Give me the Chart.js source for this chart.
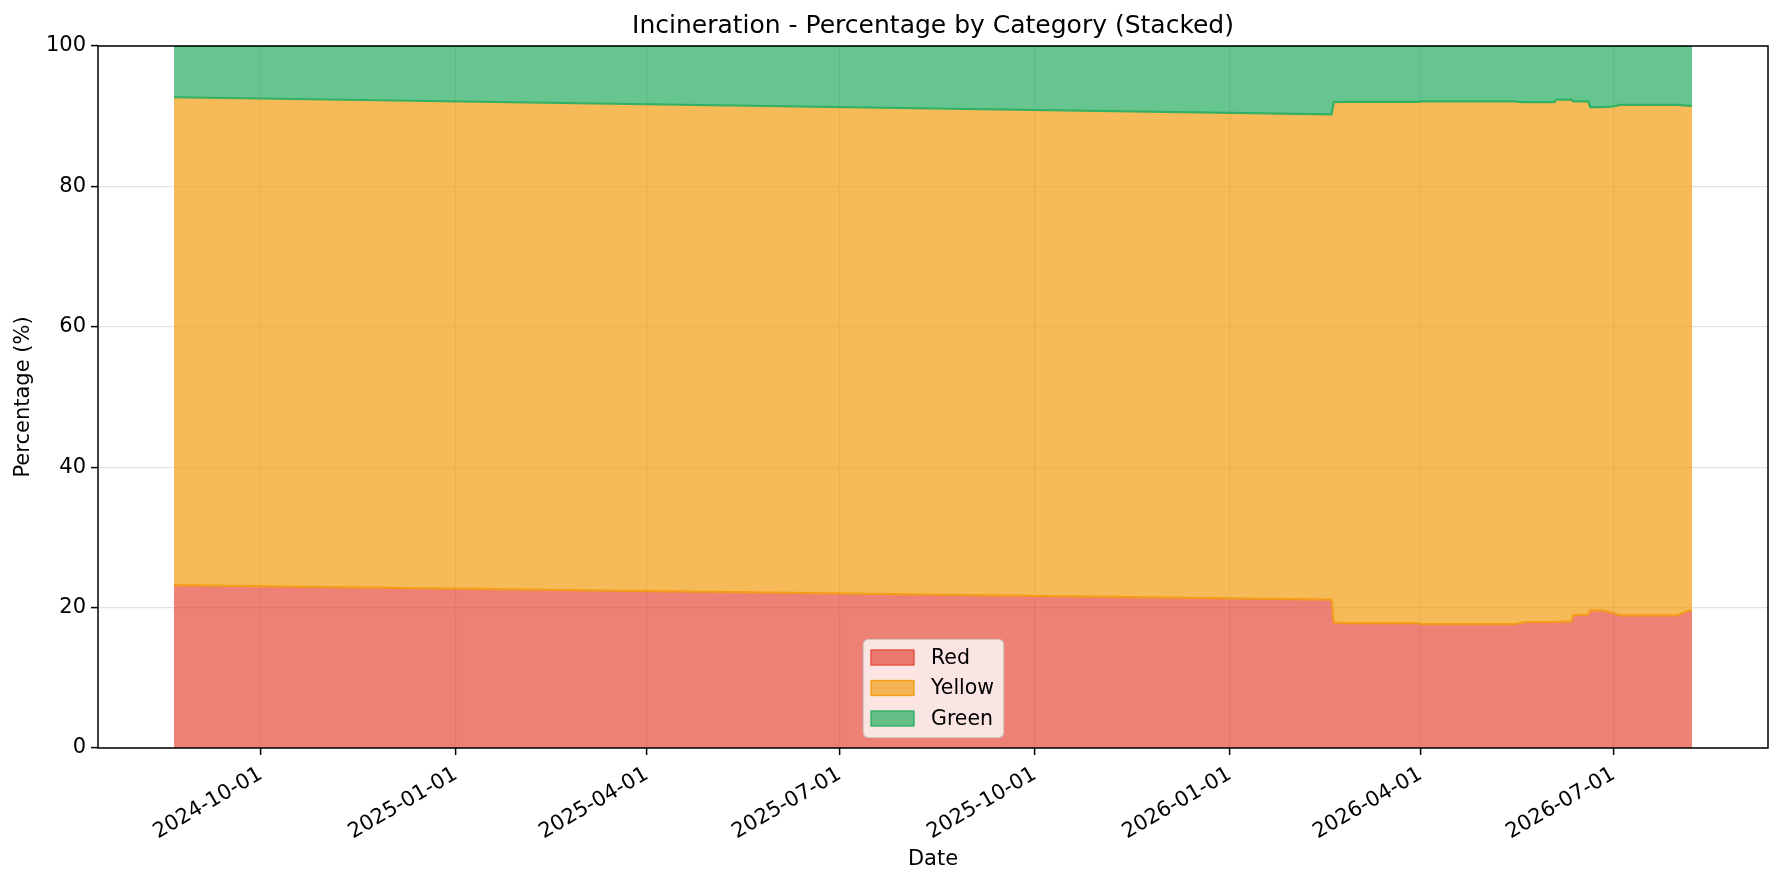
<!DOCTYPE html>
<html>
<head>
<meta charset="utf-8">
<title>Incineration - Percentage by Category (Stacked)</title>
<script src="https://cdn.jsdelivr.net/npm/chart.js@4.4.1/dist/chart.umd.min.js"></script>
<style>
    html, body { margin: 0; padding: 0; background: #fff; }
    #wrap { width: 1783px; height: 884px; position: relative; }
</style>
</head>
<body>
<div id="wrap"><canvas id="stackChart"></canvas></div>
<script>
// Sample dates and the share of each category (percent)
var dates = ['2024-08-21', '2026-02-18', '2026-02-19', '2026-02-24', '2026-03-31', '2026-04-01',
    '2026-05-15', '2026-05-19', '2026-05-21', '2026-06-03', '2026-06-04', '2026-06-11',
    '2026-06-12', '2026-06-19', '2026-06-20', '2026-06-26', '2026-07-01', '2026-07-04',
    '2026-07-31', '2026-08-03', '2026-08-05', '2026-08-07'];
var redPct = [23.2, 21.15, 17.9, 17.8, 17.8, 17.65, 17.65, 17.85, 17.95, 17.95, 18.0, 18.0,
    18.95, 19.0, 19.6, 19.6, 19.2, 18.9, 18.9, 19.3, 19.55, 19.6];
var yellowPct = [69.5, 69.1, 74.1, 74.25, 74.25, 74.45, 74.45, 74.15, 74.05, 74.05, 74.35, 74.35,
    73.15, 73.1, 71.7, 71.7, 72.2, 72.7, 72.7, 72.25, 71.95, 71.85];
var greenPct = [7.3, 9.75, 8.0, 7.95, 7.95, 7.9, 7.9, 8.0, 8.0, 8.0, 7.65, 7.65,
    7.9, 7.9, 8.7, 8.7, 8.6, 8.4, 8.4, 8.45, 8.5, 8.55];

var seriesNames = ['Red', 'Yellow', 'Green'];
var tickDates = ['2024-10-01', '2025-01-01', '2025-04-01', '2025-07-01', '2025-10-01',
    '2026-01-01', '2026-04-01', '2026-07-01'];
var yTicks = [0, 20, 40, 60, 80, 100];

var colRed = '#e74c3c', colYellow = '#f39c12', colGreen = '#27ae60';
var fontFamily = '"DejaVu Sans", "Liberation Sans", sans-serif';

function toDay(s) {
    return Date.parse(s + 'T00:00:00Z') / 86400000;
}
function fromDay(v) {
    return new Date(Math.round(v) * 86400000).toISOString().slice(0, 10);
}
function rgba(hex, a) {
    var n = parseInt(hex.slice(1), 16);
    return 'rgba(' + (n >> 16) + ',' + ((n >> 8) & 255) + ',' + (n & 255) + ',' + a + ')';
}
function points(values) {
    return values.map(function (v, i) { return { x: toDay(dates[i]), y: v }; });
}

var firstDay = toDay(dates[0]);
var lastDay = toDay(dates[dates.length - 1]);
var span = lastDay - firstDay;

// frame round the plot area (all four sides)
var framePlugin = {
    id: 'frame',
    afterDraw: function (chart) {
        var a = chart.chartArea, ctx = chart.ctx;
        ctx.save();
        ctx.strokeStyle = '#000';
        ctx.lineWidth = 1.5;
        ctx.strokeRect(a.left, a.top, a.right - a.left, a.bottom - a.top);
        ctx.restore();
    }
};

// legend box inside the plot, lower centre
var legendPlugin = {
    id: 'innerLegend',
    afterDraw: function (chart) {
        var ctx = chart.ctx;
        var cols = [colRed, colYellow, colGreen];
        var bx = 863.5, by = 639.5, bw = 140, bh = 98;
        ctx.save();
        ctx.beginPath();
        if (ctx.roundRect) {
            ctx.roundRect(bx, by, bw, bh, 5);
        } else {
            ctx.rect(bx, by, bw, bh);
        }
        ctx.fillStyle = 'rgba(255,255,255,0.8)';
        ctx.fill();
        ctx.strokeStyle = 'rgba(204,204,204,0.9)';
        ctx.lineWidth = 1.2;
        ctx.stroke();
        ctx.font = '20.5px ' + fontFamily;
        ctx.textBaseline = 'middle';
        for (var i = 0; i < seriesNames.length; i++) {
            var cy = 657.5 + i * 30.5;
            ctx.fillStyle = rgba(cols[i], 0.7);
            ctx.fillRect(871, cy - 7.5, 43, 15);
            ctx.strokeStyle = cols[i];
            ctx.lineWidth = 1.3;
            ctx.strokeRect(871, cy - 7.5, 43, 15);
            ctx.fillStyle = '#000';
            ctx.fillText(seriesNames[i], 931, cy + 1);
        }
        ctx.restore();
    }
};

var ctx = document.getElementById('stackChart').getContext('2d');
var stackChart = new Chart(ctx, {
    type: 'line',
    data: {
        datasets: [{
            label: seriesNames[0],
            data: points(redPct),
            backgroundColor: rgba(colRed, 0.7),
            borderColor: rgba(colYellow, 0.9),
            borderWidth: 2.2,
            fill: 'origin'
        }, {
            label: seriesNames[1],
            data: points(yellowPct),
            backgroundColor: rgba(colYellow, 0.7),
            borderColor: rgba(colGreen, 0.9),
            borderWidth: 2.2,
            fill: '-1'
        }, {
            label: seriesNames[2],
            data: points(greenPct),
            backgroundColor: rgba(colGreen, 0.7),
            borderColor: rgba(colGreen, 0.9),
            borderWidth: 2.2,
            fill: '-1'
        }]
    },
    options: {
        responsive: true,
        maintainAspectRatio: false,
        animation: false,
        devicePixelRatio: 1,
        layout: {
            padding: { left: 0, right: 15, top: 0, bottom: 0 }
        },
        elements: {
            point: { radius: 0, hoverRadius: 0 },
            line: { tension: 0 }
        },
        plugins: {
            legend: { display: false },
            tooltip: { enabled: false },
            title: {
                display: true,
                fullSize: false,
                text: 'Incineration - Percentage by Category (Stacked)',
                color: '#000',
                font: { family: fontFamily, size: 25, weight: 'normal' },
                padding: { top: 11, bottom: 5 }
            }
        },
        scales: {
            x: {
                type: 'linear',
                z: 1,
                min: firstDay - 0.05 * span,
                max: lastDay + 0.05 * span,
                afterBuildTicks: function (scale) {
                    scale.ticks = tickDates.map(function (d) { return { value: toDay(d) }; });
                },
                afterFit: function (scale) {
                    scale.height = 136;
                },
                grid: {
                    color: 'rgba(176,176,176,0.35)',
                    lineWidth: 1.2,
                    drawTicks: true,
                    tickLength: 7,
                    tickColor: '#000',
                    tickWidth: 1.5
                },
                border: { display: false },
                ticks: {
                    minRotation: 30,
                    maxRotation: 30,
                    padding: 7,
                    color: '#000',
                    font: { family: fontFamily, size: 21 },
                    callback: function (value) { return fromDay(value); }
                },
                title: {
                    display: true,
                    text: 'Date',
                    color: '#000',
                    font: { family: fontFamily, size: 21 },
                    padding: { top: 0, bottom: 12 }
                }
            },
            y: {
                stacked: true,
                z: 1,
                min: 0,
                max: 100,
                afterBuildTicks: function (scale) {
                    scale.ticks = yTicks.map(function (v) { return { value: v }; });
                },
                afterFit: function (scale) {
                    scale.width = 98;
                },
                grid: {
                    color: 'rgba(176,176,176,0.35)',
                    lineWidth: 1.2,
                    drawTicks: true,
                    tickLength: 7,
                    tickColor: '#000',
                    tickWidth: 1.5
                },
                border: { display: false },
                ticks: {
                    padding: 5,
                    color: '#000',
                    font: { family: fontFamily, size: 21 }
                },
                title: {
                    display: true,
                    text: 'Percentage (%)',
                    color: '#000',
                    font: { family: fontFamily, size: 21 },
                    padding: { top: 11, bottom: 0 }
                }
            }
        }
    },
    plugins: [framePlugin, legendPlugin]
});
</script>
</body>
</html>
